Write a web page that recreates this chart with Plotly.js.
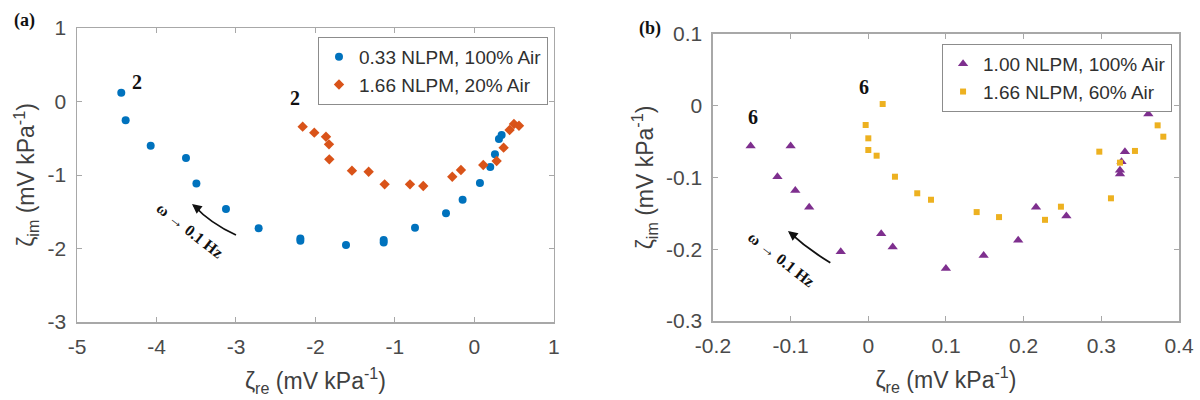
<!DOCTYPE html>
<html>
<head>
<meta charset="utf-8">
<script src="https://cdn.plot.ly/plotly-3.0.1.min.js"></script>
<style>html,body{margin:0;padding:0;background:#fff;}#chart{width:1200px;height:400px;}</style>
</head>
<body>
<div id="chart"></div>
<script>
// ---- Panel (a) data ----
const aBlueName = "0.33 NLPM, 100% Air";
const aBlueX = [-4.443,-4.388,-4.073,-3.629,-3.498,-3.126,-2.715,-2.19,-2.19,-1.616,-1.142,-1.142,-0.748,-0.358,-0.149,0.069,0.199,0.258,0.308,0.342];
const aBlueY = [0.12,-0.256,-0.601,-0.769,-1.115,-1.463,-1.725,-1.865,-1.895,-1.952,-1.885,-1.92,-1.717,-1.522,-1.336,-1.109,-0.891,-0.719,-0.51,-0.456];
const aOrangeName = "1.66 NLPM, 20% Air";
const aOrangeX = [-2.161,-2.015,-1.868,-1.83,-1.826,-1.541,-1.331,-1.13,-0.811,-0.644,-0.279,-0.17,0.111,0.279,0.367,0.442,0.497,0.56];
const aOrangeY = [-0.342,-0.424,-0.479,-0.583,-0.787,-0.941,-0.955,-1.127,-1.127,-1.15,-1.023,-0.932,-0.864,-0.81,-0.628,-0.388,-0.306,-0.329];
const aXTicks = [-5,-4,-3,-2,-1,0,1];
const aXLabels = ["-5","-4","-3","-2","-1","0","1"];
const aYTicks = [-3,-2,-1,0,1];
const aYLabels = ["-3","-2","-1","0","1"];

// ---- Panel (b) data ----
const bPurpleName = "1.00 NLPM, 100% Air";
const bPurpleX = [-0.1515,-0.100,-0.117,-0.094,-0.0761,-0.0355,0.0166,0.0314,0.0999,0.1485,0.193,0.2159,0.255,0.324,0.324,0.326,0.3304,0.3605];
const bPurpleY = [-0.056,-0.056,-0.099,-0.118,-0.1413,-0.2034,-0.1785,-0.197,-0.227,-0.2086,-0.1873,-0.1416,-0.1537,-0.095,-0.090,-0.078,-0.064,-0.0115];
const bYellowName = "1.66 NLPM, 60% Air";
const bYellowX = [0.0185,-0.0034,0.0,0.0,0.0107,0.0343,0.063,0.0807,0.1395,0.1683,0.2275,0.248,0.2974,0.3124,0.324,0.3433,0.3725,0.3798];
const bYellowY = [0.0024,-0.0268,-0.0454,-0.0617,-0.0696,-0.0989,-0.122,-0.131,-0.1482,-0.1552,-0.159,-0.1407,-0.064,-0.129,-0.0793,-0.063,-0.0273,-0.0431];
const bXTicks = [-0.2,-0.1,0,0.1,0.2,0.3,0.4];
const bXLabels = ["-0.2","-0.1","0","0.1","0.2","0.3","0.4"];
const bYTicks = [-0.3,-0.2,-0.1,0,0.1];
const bYLabels = ["-0.3","-0.2","-0.1","0","0.1"];

const sans = "Liberation Sans, Arial, sans-serif";
const serifBold = "Liberation Serif, DejaVu Serif, serif";
const tickFont = {family: sans, size: 21, color: "#4a4a4a"};
const titleFont = {family: sans, size: 23, color: "#404040"};
const axisCommon = {
  showgrid: false, zeroline: false, showline: true, linecolor: "#a8a8a8", linewidth: 1.5,
  mirror: "ticks", ticks: "inside", ticklen: 5, tickwidth: 1, tickcolor: "#a8a8a8",
  tickfont: tickFont, tickmode: "array", ticklabelstandoff: 5
};

const traces = [
  {x: aBlueX, y: aBlueY, type: "scatter", mode: "markers", name: aBlueName, xaxis: "x", yaxis: "y", legend: "legend",
   marker: {symbol: "circle", size: 8, color: "#0072BD"}},
  {x: aOrangeX, y: aOrangeY, type: "scatter", mode: "markers", name: aOrangeName, xaxis: "x", yaxis: "y", legend: "legend",
   marker: {symbol: "diamond", size: 8, color: "#D95319"}},
  {x: bPurpleX, y: bPurpleY, type: "scatter", mode: "markers", name: bPurpleName, xaxis: "x2", yaxis: "y2", legend: "legend2",
   marker: {symbol: "triangle-up", size: 9, color: "#7E2F8E"}},
  {x: bYellowX, y: bYellowY, type: "scatter", mode: "markers", name: bYellowName, xaxis: "x2", yaxis: "y2", legend: "legend2",
   marker: {symbol: "square", size: 6, color: "#EDB120"}}
];

const legendCommon = {bgcolor: "#ffffff", bordercolor: "#8c8c8c", borderwidth: 1,
  font: {family: sans, size: 19, color: "#303030"},
  xanchor: "right", yanchor: "top", tracegroupgap: 0, itemwidth: 30};

const labelFont = {family: serifBold, size: 20, color: "#111"};
const layout = {
  width: 1200, height: 400,
  margin: {l: 77, r: 21, t: 28, b: 78},
  paper_bgcolor: "#ffffff", plot_bgcolor: "#ffffff",
  showlegend: true,
  legend: Object.assign({x: 0.4274, y: 0.9694}, legendCommon),
  legend2: Object.assign({x: 0.9937, y: 0.9456}, legendCommon),
  xaxis: Object.assign({}, axisCommon, {domain: [0, 0.4328], range: [-5, 1], tickvals: aXTicks, ticktext: aXLabels, anchor: "y",
    title: {text: "ζ<sub>re</sub> (mV kPa<sup>-1</sup>)", font: titleFont, standoff: 16}}),
  yaxis: Object.assign({}, axisCommon, {domain: [0, 1], range: [-3, 1], tickvals: aYTicks, ticktext: aYLabels, anchor: "x",
    title: {text: "ζ<sub>im</sub> (mV kPa<sup>-1</sup>)", font: titleFont, standoff: 6}}),
  xaxis2: Object.assign({}, axisCommon, {domain: [0.5771, 1], range: [-0.2, 0.4], tickvals: bXTicks, ticktext: bXLabels, anchor: "y2",
    title: {text: "ζ<sub>re</sub> (mV kPa<sup>-1</sup>)", font: titleFont, standoff: 16}}),
  yaxis2: Object.assign({}, axisCommon, {domain: [0.0034, 0.9796], range: [-0.3, 0.1], tickvals: bYTicks, ticktext: bYLabels, anchor: "x2",
    title: {text: "ζ<sub>im</sub> (mV kPa<sup>-1</sup>)", font: titleFont, standoff: 6}}),
  annotations: [
    {xref: "paper", yref: "paper", x: -0.0472, y: 1.024, xanchor: "center", yanchor: "middle", text: "<b>(a)</b>", showarrow: false, font: {family: serifBold, size: 18, color: "#111"}},
    {xref: "paper", yref: "paper", x: 0.52, y: 1.0, xanchor: "center", yanchor: "middle", text: "<b>(b)</b>", showarrow: false, font: {family: serifBold, size: 18, color: "#111"}},
    {xref: "x", yref: "y", x: -4.249, y: 0.269, text: "<b>2</b>", showarrow: false, font: labelFont},
    {xref: "x", yref: "y", x: -2.258, y: 0.052, text: "<b>2</b>", showarrow: false, font: labelFont},
    {xref: "x2", yref: "y2", x: -0.148, y: -0.016, text: "<b>6</b>", showarrow: false, font: labelFont},
    {xref: "x2", yref: "y2", x: -0.0052, y: 0.0265, text: "<b>6</b>", showarrow: false, font: labelFont},
    {xref: "x", yref: "y", x: -3.58, y: -1.76, text: "<b>ω → 0.1 Hz</b>", showarrow: false, textangle: 38, font: {family: serifBold, size: 16, color: "#111"}},
    {xref: "x2", yref: "y2", x: -0.1112, y: -0.2136, text: "<b>ω → 0.1 Hz</b>", showarrow: false, textangle: 38, font: {family: serifBold, size: 16, color: "#111"}},
    {xref: "x", yref: "y", x: -3.553, y: -1.395, ax: 9, ay: 7, text: "", showarrow: true, arrowhead: 2, arrowsize: 1.2, arrowwidth: 1.6, arrowcolor: "#111", font: {size: 10}},
    {xref: "x2", yref: "y2", x: -0.1034, y: -0.1746, ax: 9, ay: 7, text: "", showarrow: true, arrowhead: 2, arrowsize: 1.2, arrowwidth: 1.6, arrowcolor: "#111", font: {size: 10}}
  ],
  shapes: [
    {type: "path", xref: "x", yref: "y", path: "M -3.0,-1.816 Q -3.32,-1.66 -3.53,-1.415", line: {color: "#111", width: 1.8}},
    {type: "path", xref: "x2", yref: "y2", path: "M -0.0489,-0.2187 Q -0.078,-0.2 -0.1015,-0.1765", line: {color: "#111", width: 1.8}}
  ]
};

Plotly.newPlot("chart", traces, layout, {displayModeBar: false, staticPlot: true});
</script>
</body>
</html>
